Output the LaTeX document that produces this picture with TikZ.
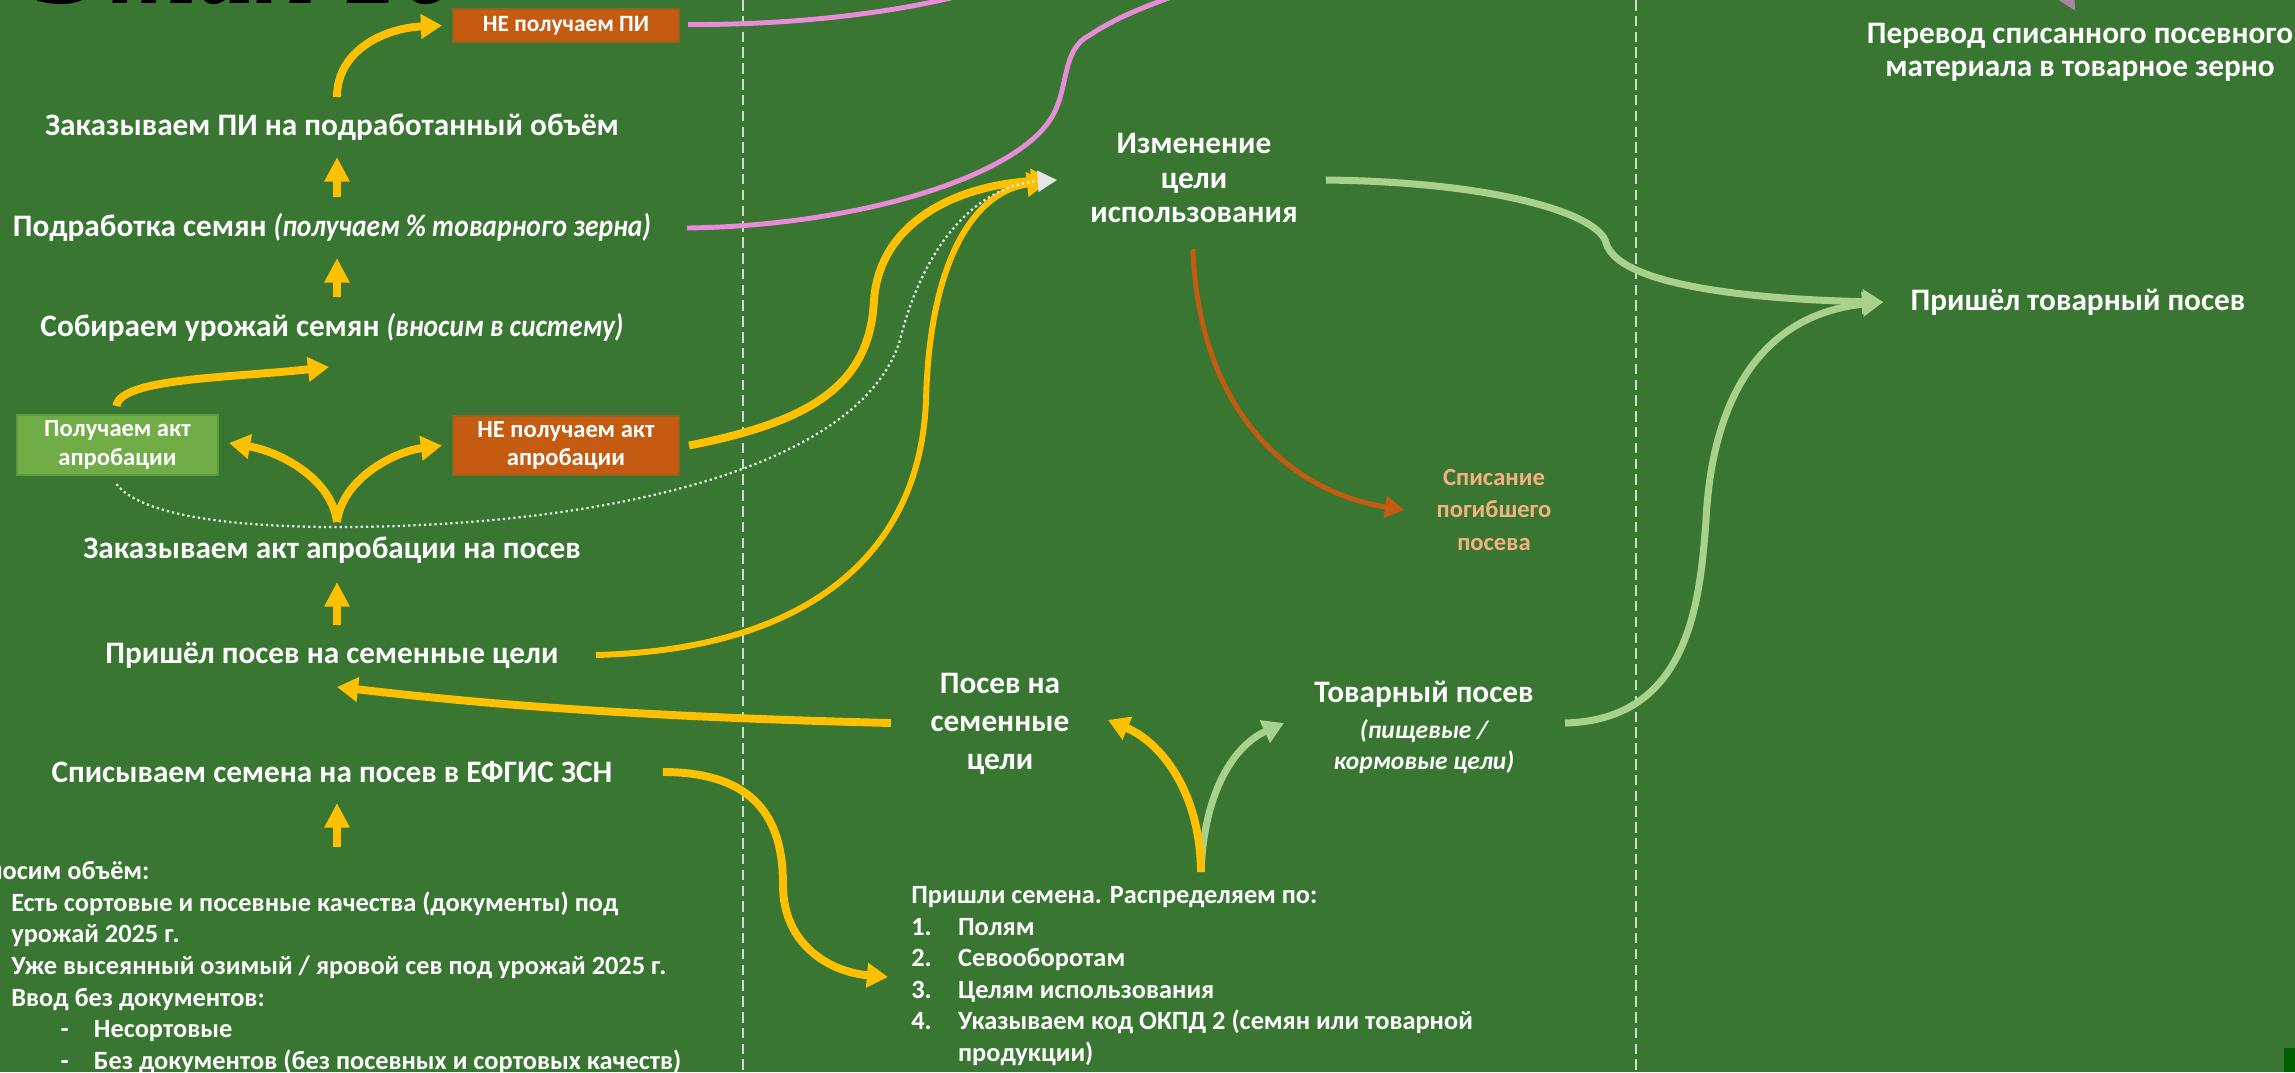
\documentclass[tikz,border=0pt]{standalone}
\usepackage{fontspec}
\usepackage{graphicx}
\setmainfont{Carlito}
\newfontfamily\titlefont{Liberation Serif}
\usetikzlibrary{arrows.meta,calc}

\definecolor{field}{RGB}{56,118,50}
\definecolor{seedyellow}{RGB}{255,192,0}
\definecolor{rust}{RGB}{197,90,17}
\definecolor{leaf}{RGB}{112,173,71}
\definecolor{paleleaf}{RGB}{169,209,142}
\definecolor{peach}{RGB}{244,177,131}
\definecolor{orchid}{RGB}{232,140,218}
\definecolor{deepgreen}{RGB}{0,96,0}

\newcommand{\aside}[1]{\scalebox{0.88}[1]{\itshape #1}}

\begin{document}
\begin{tikzpicture}[x=0.02cm, y=-0.02cm,
    stage/.style ={text=white, inner sep=0pt, align=center, font=\bfseries\fontsize{17.8}{21.8}\selectfont},
    small/.style ={text=white, inner sep=0pt, align=left, font=\bfseries\fontsize{15}{18}\selectfont},
    tag/.style ={text=white, inner sep=0pt, align=center, minimum width=4.52cm, font=\bfseries\fontsize{14}{16}\selectfont},
    ripe/.style ={tag, fill=leaf, draw=leaf!65!field, line width=1.2pt},
    fail/.style ={tag, fill=rust, draw=rust!65!field, line width=1.2pt},
    seed/.style ={draw=seedyellow, line width=4.5pt, -{Triangle[length=12pt,width=13.5pt]}},
    lift/.style ={draw=seedyellow, line width=4.5pt, -{Triangle[length=14pt,width=13.6pt]}},
    sprout/.style ={draw=paleleaf, line width=4pt, -{Triangle[length=12pt,width=13.5pt]}},
    wither/.style ={draw=rust, line width=2.8pt, -{Triangle[length=11pt,width=12pt]}},
    trail/.style ={draw=white!85!field, line width=1.3pt, dash pattern=on 1.3pt off 1.7pt,
                   -{Triangle[length=11pt,width=12pt,color=gray!20,fill=gray!20]}},
    pinkline/.style ={draw=orchid, line width=2.8pt},
    column/.style ={draw=white!75!field, line width=0.6pt, dash pattern=on 6pt off 3pt}]
   \useasboundingbox (0,0) rectangle (2295,1072);
   \clip (0,0) rectangle (2295,1072);
   \fill[field] (0,0) rectangle (2295,1072);
   \fill[deepgreen] (2284,1048) rectangle (2295,1072);
   \draw[column] (743,0) -- (743,1072);
   \draw[column] (1636,0) -- (1636,1072);

   \node[anchor=base west, inner sep=0pt, text=black, font=\titlefont\bfseries\itshape\fontsize{64}{64}\selectfont] (etap) at (37,3) {Этап 1б};

   % left column
   \node[stage] (zakazPI) at (332,127) {Заказываем ПИ на подработанный объём};
   \node[stage] (podrab) at (332,227) {Подработка семян \aside{(получаем \% товарного зерна)}};
   \node[stage] (sobir) at (332,327) {Собираем урожай семян \aside{(вносим в систему)}};
   \node[stage] (zakazAkt) at (332,550) {Заказываем акт апробации на посев};
   \node[stage] (prishelSem) at (332,655) {Пришёл посев на семенные цели};
   \node[stage] (spisyv) at (332,772) {Списываем семена на посев в ЕФГИС ЗСН};
   \node[fail, minimum height=0.66cm, font=\bfseries\fontsize{13.3}{16}\selectfont] (nePI) at (566,25.5) {НЕ получаем ПИ};
   \node[ripe, minimum width=4.02cm, minimum height=1.2cm] (poluchAkt) at (117.5,445) {Получаем акт\\апробации};
   \node[fail, minimum height=1.18cm] (neAkt) at (566,445.5) {НЕ получаем акт\\апробации};
   \node[small, anchor=north west] (vnosim) at (11,861) {\hspace*{-21.5pt}Вносим объём:\\
      Есть сортовые и посевные качества (документы) под\\
      урожай 2025 г.\\
      Уже высеянный озимый / яровой сев под урожай 2025 г.\\
      Ввод без документов:\\
      \hspace*{28pt}\makebox[19pt][l]{-}Несортовые\\
      \hspace*{28pt}\makebox[19pt][l]{-}Без документов (без посевных и сортовых качеств)};

   % middle and right
   \node[stage, font=\bfseries\fontsize{17.8}{19.8}\selectfont] (izmen) at (1194,178) {Изменение\\цели\\использования};
   \node[stage, text=peach, font=\bfseries\fontsize{14}{18.4}\selectfont] (spisanie) at (1494,510) {Списание\\погибшего\\посева};
   \node[stage] (posevSem) at (1000,724) {Посев на\\семенные\\цели};
   \node[stage, font=\bfseries\fontsize{17.8}{17.4}\selectfont] (tovarPosev) at (1424,727) {Товарный посев\\[3.3pt]
      {\fontsize{14.5}{17.4}\selectfont\itshape (пищевые /}\\
      {\fontsize{14.5}{17.4}\selectfont\itshape кормовые цели)}};
   \node[small, anchor=north west] (prishli) at (911,886) {Пришли семена. Распределяем по:\\
      \makebox[26.6pt][l]{1.}Полям\\
      \makebox[26.6pt][l]{2.}Севооборотам\\
      \makebox[26.6pt][l]{3.}Целям использования\\
      \makebox[26.6pt][l]{4.}Указываем код ОКПД 2 (семян или товарной\\
      \hspace*{26.6pt}продукции)};
   \node[stage] (prishelTov) at (2078,302) {Пришёл товарный посев};
   \node[stage, font=\bfseries\fontsize{17.8}{18.7}\selectfont] (perevod) at (2080,52) {Перевод списанного посевного\\материала в товарное зерно};
   \coordinate (topA) at (975,-8);
   \coordinate (topB) at (1190,-10);
   \coordinate (perevodIn) at (2035,-60);

   % pink lines leave the picture
   \draw[pinkline] ($(nePI.east)+(8,-1)$) .. controls (800,25) and (900,12) .. (topA);
   \draw[pinkline] ($(podrab)+(355,1)$) .. controls (850,226) and (1010,180) .. (1050,120)
      .. controls (1070,90) and (1060,50) .. (1090,35) .. controls (1120,15) and (1150,5) .. (topB);
   \draw[draw=gray!60!orchid, line width=2pt, -{Triangle[length=12pt,width=12pt]}] (perevodIn) -- ($(perevod.north)+(-5,-12)$);

   % yellow flow
   \draw[lift] ($(podrab)+(5,-30)$) -- ($(zakazPI)+(5,30)$);
   \draw[lift] ($(sobir)+(5,-30)$) -- ($(podrab)+(5,31)$);
   \draw[lift] ($(prishelSem)+(5,-30)$) -- ($(zakazAkt)+(5,32)$);
   \draw[lift] ($(vnosim.north west)+(326,-14)$) -- ($(spisyv)+(5,31)$);
   \draw[seed] ($(zakazPI)+(5,-30)$) .. controls (337,50) and (385,28) .. ($(nePI.west)+(-10,0)$);
   \draw[seed] ($(poluchAkt.north)+(-1,-8)$) .. controls (120,378) and (230,378) .. ($(sobir)+(-3,40)$);
   \draw[seed] ($(zakazAkt)+(5,-28)$) .. controls (332,480) and (282,452) .. ($(poluchAkt.east)+(10,-2)$);
   \draw[seed] ($(zakazAkt)+(5,-28)$) .. controls (342,480) and (392,452) .. ($(neAkt.west)+(-10,0)$);
   \draw[seed] ($(neAkt.east)+(9,0)$) .. controls (820,420) and (870,380) .. (874,300)
      .. controls (880,220) and (960,185) .. ($(izmen)+(-142,2)$);
   \draw[seed, line width=3.4pt] ($(prishelSem)+(264,0)$) .. controls (800,650) and (920,560) .. (926,400)
      .. controls (930,250) and (980,190) .. ($(izmen)+(-146,4)$);
   \draw[trail] ($(poluchAkt.south)+(-1,8)$) .. controls (140,515) and (230,527) .. (337,527)
      .. controls (600,527) and (860,470) .. (900,340) .. controls (925,240) and (980,185) .. ($(izmen)+(-137,2)$);
   \draw[seed] ($(posevSem)+(-109,-1)$) .. controls (600,716) and (450,700) .. ($(prishelSem)+(5,32)$);
   \draw[seed] ($(spisyv.east)+(50,0)$) .. controls (765,772) and (783,830) .. (783,885)
      .. controls (783,945) and (830,972) .. ($(prishli.north west)+(-23,91)$);

   % distribution
   \draw[sprout] ($(prishli.north west)+(290,-14)$) .. controls (1204,790) and (1235,745) .. ($(tovarPosev)+(-140,-4)$);
   \draw[seed] ($(prishli.north west)+(290,-14)$) .. controls (1200,790) and (1160,742) .. ($(posevSem)+(108,-4)$);
   \draw[sprout] ($(tovarPosev)+(141,-4)$) .. controls (1690,720) and (1700,600) .. (1706,520)
      .. controls (1712,400) and (1760,315) .. ($(prishelTov.west)+(-27,0)$);
   \draw[sprout] ($(izmen.east)+(28,2)$) .. controls (1500,182) and (1600,215) .. (1606,243)
      .. controls (1620,290) and (1780,300) .. ($(prishelTov.west)+(-27,0)$);
   \draw[wither] ($(izmen)+(-1,71)$) .. controls (1198,400) and (1280,490) .. ($(spisanie.west)+(-32,0)$);
\end{tikzpicture}
\end{document}
